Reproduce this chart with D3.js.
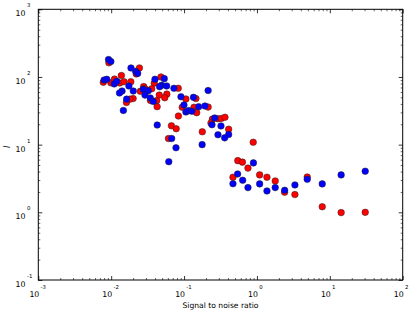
<!DOCTYPE html>
<html>
<head>
<meta charset="utf-8">
<script src="https://cdn.jsdelivr.net/npm/d3@7"></script>
<style>
  body { margin: 0; background: #fff; }
  svg { display: block; font-family: "DejaVu Sans", sans-serif; }
</style>
</head>
<body>
<div id="chart"></div>
<script>
// series values
const redSnr = [0.0093, 0.0244, 0.0221, 0.0138, 0.0078, 0.0099, 0.0111, 0.0131, 0.0150, 0.0186,
  0.0390, 0.0482, 0.0279, 0.0291, 0.0360, 0.0251, 0.0457, 0.0162, 0.0200, 0.0181,
  0.0346, 0.0421, 0.0427, 0.0832, 0.0580, 0.0543, 0.106, 0.1455, 0.0944, 0.1368,
  0.214, 0.149, 0.0837, 0.245, 0.234, 0.292, 0.324, 0.364, 0.0671, 0.078,
  0.178, 0.409, 0.0611, 0.889, 0.546, 0.632, 0.753, 0.469, 1.089, 1.372,
  1.782, 2.399, 3.32, 4.90, 7.87, 14.3, 30.6];
const redL = [162, 136, 111, 105, 83.5, 82, 93, 81.5, 85, 85,
  81, 100, 72, 67, 67, 61.5, 54, 42, 48, 47,
  45, 44.7, 36.4, 68, 55.7, 49.3, 47.3, 48, 35.7, 35.7,
  35.9, 29.7, 26.5, 23.8, 20.9, 24.2, 24.4, 25.4, 19.0, 17.2,
  15.5, 16.9, 12.3, 10.85, 5.80, 5.51, 4.50, 3.30, 3.57, 3.30,
  2.91, 1.98, 1.83, 3.33, 1.21, 0.99, 1.00];

const blueSnr = [0.0092, 0.0099, 0.0187, 0.0217, 0.0231, 0.0080, 0.0087, 0.0110, 0.0119, 0.0175,
  0.0399, 0.0493, 0.0535, 0.0462, 0.0577, 0.0726, 0.0275, 0.0323, 0.0201, 0.0141,
  0.0130, 0.0291, 0.0163, 0.0344, 0.0378, 0.0147, 0.214, 0.0907, 0.1346, 0.0997,
  0.1586, 0.1935, 0.106, 0.1156, 0.128, 0.263, 0.2415, 0.321, 0.0428, 0.292,
  0.409, 0.3605, 0.0676, 0.177, 0.0775, 0.0617, 0.895, 0.543, 0.637, 0.469,
  0.753, 1.089, 1.372, 1.782, 2.399, 3.32, 4.90, 7.87, 14.3, 30.6];
const blueL = [181, 169, 136, 121, 113, 90, 92.5, 79, 86, 73.6,
  92.5, 75.4, 94.4, 72, 73.6, 68, 65.8, 62.8, 62, 62,
  58, 54, 47, 49, 43.5, 32, 63, 51, 50, 38.6,
  36.4, 37.3, 30.4, 31.8, 31.1, 24.8, 19.7, 18.9, 19.5, 14.0,
  14.1, 12.6, 12.3, 10.0, 9.0, 5.6, 5.37, 3.69, 2.98, 2.65,
  2.32, 2.63, 2.07, 2.32, 2.12, 2.54, 3.08, 2.63, 3.57, 4.05];

// decade exponents used as tick labels
const xExponents = [-3, -2, -1, 0, 1, 2];
const yExponents = [-1, 0, 1, 2, 3];

const width = 415, height = 312;
const plot = {left: 38.3, right: 402.7, top: 9.3, bottom: 280};

const svg = d3.select('#chart').append('svg')
  .attr('width', width)
  .attr('height', height);

svg.append('rect').attr('width', width).attr('height', height).attr('fill', '#fff');

const x = d3.scaleLog().domain([1e-3, 1e2]).range([plot.left, plot.right]);
const y = d3.scaleLog().domain([1e-1, 1e3]).range([plot.bottom, plot.top]);

const minorOf = exps => {
  const out = [];
  exps.slice(0, -1).forEach(e => {
    for (let m = 2; m < 10; m++) out.push(m * Math.pow(10, e));
  });
  return out;
};
const xMajor = xExponents.map(e => Math.pow(10, e));
const yMajor = yExponents.map(e => Math.pow(10, e));
const xMinor = minorOf(xExponents);
const yMinor = minorOf(yExponents);

// ticks point inward on all four sides
const axes = [
  {gen: d3.axisBottom, scale: x, t: `translate(0,${plot.bottom})`},
  {gen: d3.axisTop, scale: x, t: `translate(0,${plot.top})`},
  {gen: d3.axisLeft, scale: y, t: `translate(${plot.left},0)`},
  {gen: d3.axisRight, scale: y, t: `translate(${plot.right},0)`}
];
axes.forEach(a => {
  const major = a.scale === x ? xMajor : yMajor;
  const minor = a.scale === x ? xMinor : yMinor;
  svg.append('g').attr('transform', a.t)
    .call(a.gen(a.scale).tickValues(minor).tickSize(-2).tickSizeOuter(0).tickFormat(''))
    .call(g => g.select('.domain').remove())
    .selectAll('line').attr('stroke', '#000').attr('stroke-width', 0.6);
  svg.append('g').attr('transform', a.t)
    .call(a.gen(a.scale).tickValues(major).tickSize(-4).tickSizeOuter(0).tickFormat(''))
    .call(g => g.select('.domain').remove())
    .selectAll('line').attr('stroke', '#000').attr('stroke-width', 0.8);
});

// points: red first, blue on top
const series = [
  {xs: redSnr, ys: redL, color: '#ff0000'},
  {xs: blueSnr, ys: blueL, color: '#0000ff'}
];
series.forEach(s => {
  svg.append('g')
    .selectAll('circle')
    .data(s.xs.map((v, i) => [v, s.ys[i]]))
    .join('circle')
    .attr('cx', d => x(d[0]))
    .attr('cy', d => y(d[1]))
    .attr('r', 3.3)
    .attr('fill', s.color)
    .attr('stroke', '#222')
    .attr('stroke-width', 0.5);
});

// frame
svg.append('rect')
  .attr('x', plot.left).attr('y', plot.top)
  .attr('width', plot.right - plot.left).attr('height', plot.bottom - plot.top)
  .attr('fill', 'none').attr('stroke', '#000').attr('stroke-width', 1);

// tick labels as 10 with a superscript exponent
const xl = svg.append('g');
xExponents.forEach(e => {
  const px = x(Math.pow(10, e));
  xl.append('text').attr('x', px + 1).attr('y', 297)
    .attr('text-anchor', 'end').attr('font-size', 7.8).text('10');
  xl.append('text').attr('x', px + 2.3).attr('y', 288.5)
    .attr('font-size', 5.4).text(e < 0 ? '-' + (-e) : e);
});
const yl = svg.append('g');
yExponents.forEach(e => {
  const py = y(Math.pow(10, e));
  yl.append('text').attr('x', 25.5).attr('y', py + 7)
    .attr('text-anchor', 'end').attr('font-size', 7.8).text('10');
  yl.append('text').attr('x', 27).attr('y', py - 2)
    .attr('font-size', 5.4).text(e < 0 ? '-' + (-e) : e);
});

// axis titles
svg.append('text')
  .attr('x', (plot.left + plot.right) / 2).attr('y', 308)
  .attr('text-anchor', 'middle').attr('font-size', 7.6)
  .text('Signal to noise ratio');

svg.append('text')
  .attr('transform', 'translate(9.5,147) rotate(-90)')
  .attr('text-anchor', 'middle').attr('font-size', 8)
  .attr('font-style', 'italic')
  .text('l');
</script>
</body>
</html>
